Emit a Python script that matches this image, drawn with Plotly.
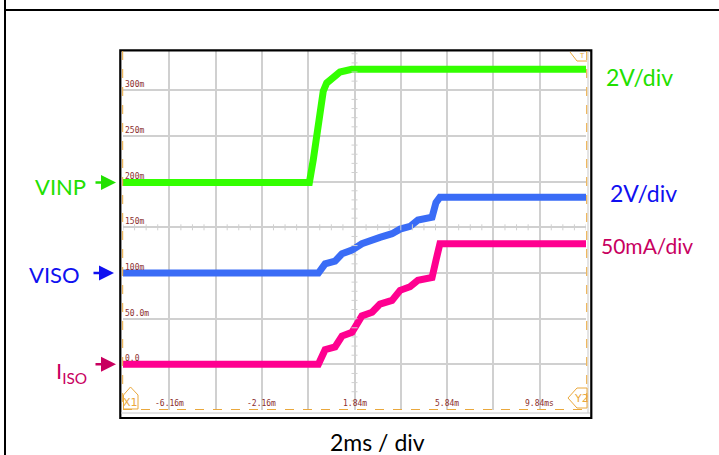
import plotly.graph_objects as go

# Scope capture: time in ms, vertical position in screen units (m)
time_vinp = [-8.16, -0.11, 0.06, 0.21, 0.35, 0.49, 0.64, 0.93, 1.21, 1.72, 11.84]
vinp = [199, 199, 224, 249, 275, 299, 308, 315, 320, 323, 323]

time_steps = [-8.16, 0.28, 0.57, 1.00, 1.30, 1.73, 2.16, 2.60, 2.94, 3.46,
              3.81, 4.24, 4.58, 5.19, 5.36, 5.53, 11.84]
viso = [100, 100, 110, 113, 121, 125, 132, 135, 139, 143, 148, 151, 158, 161, 177, 183, 183]
iiso = [0, 0, 16, 19, 31, 35, 53, 57, 66, 70, 81, 85, 92, 95, 114, 132, 132]

y_tick_vals = [300, 250, 200, 150, 100, 50, 0]
y_tick_text = ["300m", "250m", "200m", "150m", "100m", "50.0m", "0.0"]
x_tick_vals = [-6.16, -2.16, 1.84, 5.84, 9.84]
x_tick_text = ["-6.16m", "-2.16m", "1.84m", "5.84m", "9.84ms"]

X_RANGE = [-8.16, 11.84]
Y_RANGE = [-50, 343]

GREEN_TRACE = "#33ff00"
BLUE_TRACE = "#3a6cf6"
PINK_TRACE = "#ff0090"
GREEN_TEXT = "#22e000"
BLUE_TEXT = "#1010f0"
PINK_TEXT = "#c8005f"
ORANGE = "#eaa83c"
GRID = "#d0d0d0"
LABEL = "#8b2e2e"

W, H = 719, 455
ML, MR, MT, MB = 123, 133, 51, 45


def px(x):
    return (x - ML) / (W - ML - MR)


def py(y):
    return (H - MB - y) / (H - MT - MB)


fig = go.Figure()
for t, v, c in [(time_vinp, vinp, GREEN_TRACE),
                (time_steps, viso, BLUE_TRACE),
                (time_steps, iiso, PINK_TRACE)]:
    fig.add_trace(go.Scatter(x=t, y=v, mode="lines",
                             line=dict(color=c, width=7),
                             hoverinfo="skip", showlegend=False))

shapes = []


def line(x0, y0, x1, y1, color, width, dash=None):
    shapes.append(dict(type="line", xref="paper", yref="paper",
                       x0=px(x0), y0=py(y0), x1=px(x1), y1=py(y1),
                       line=dict(color=color, width=width, dash=dash),
                       layer="above"))


# page border
line(5, 10, 719, 10, "black", 2)
line(5, 0, 5, 455, "black", 2)
# scope frame
shapes.append(dict(type="rect", xref="paper", yref="paper",
                   x0=px(120.3), x1=px(591.3), y0=py(418), y1=py(50.3),
                   line=dict(color="black", width=2.2), layer="above"))
line(121, 413, 590, 413, "#c8c8c8", 1)
line(588, 51, 588, 413, "#c8c8c8", 1)
# cursor lines
line(122.7, 51, 122.7, 410, ORANGE, 1, "dash")
line(123, 409.5, 587, 409.5, ORANGE, 1, "dash")
line(586.7, 51, 586.7, 410, ORANGE, 1, "dash")

# minor ticks on the centre cross
for k in range(-10, 40):
    v = k * 10
    if Y_RANGE[0] < v < Y_RANGE[1]:
        shapes.append(dict(type="line", xref="x", yref="y", xsizemode="pixel",
                           xanchor=1.84, x0=-3, x1=3, y0=v, y1=v,
                           line=dict(color=GRID, width=1)))
for k in range(0, 41):
    t = X_RANGE[0] + k * 0.5
    shapes.append(dict(type="line", xref="x", yref="y", ysizemode="pixel",
                       yanchor=150, y0=-3, y1=3, x0=t, x1=t,
                       line=dict(color=GRID, width=1)))


def path(points):
    d = "M " + " L ".join(f"{px(a):.5f},{py(b):.5f}" for a, b in points) + " Z"
    shapes.append(dict(type="path", xref="paper", yref="paper", path=d,
                       line=dict(color=ORANGE, width=1), layer="above"))


path([(123.5, 409), (123.5, 395), (130.5, 387), (138, 395), (138, 409)])
path([(587, 388), (577, 388), (568, 398), (577, 408), (587, 408)])
line(570, 52, 577, 61, ORANGE, 1)
line(577, 61, 587, 61, ORANGE, 1)

annotations = []


def text(s, x, y, color, size, xanchor="left", family="Lato", yanchor="middle", **kw):
    annotations.append(dict(text=s, xref="paper", yref="paper", x=px(x), y=py(y),
                            xanchor=xanchor, yanchor=yanchor, showarrow=False,
                            font=dict(family=family, size=size, color=color), **kw))


# in-screen scale labels
for v, s in zip(y_tick_vals, y_tick_text):
    annotations.append(dict(text=s, xref="paper", yref="y", x=px(124), y=v,
                            xanchor="left", yanchor="bottom", showarrow=False,
                            borderpad=0, yshift=0,
                            font=dict(family="DejaVu Sans Mono", size=8, color=LABEL)))
for t, s in zip(x_tick_vals, x_tick_text):
    annotations.append(dict(text=s, xref="x", yref="y", x=t, y=Y_RANGE[0],
                            xanchor="center", yanchor="bottom", showarrow=False,
                            borderpad=0, yshift=1,
                            font=dict(family="DejaVu Sans Mono", size=8, color=LABEL)))

text("X1", 130.8, 402, ORANGE, 11, xanchor="center", family="DejaVu Sans")
text("Y2", 581, 398, ORANGE, 11, xanchor="center", family="DejaVu Sans")
text("T", 582, 56, ORANGE, 7, xanchor="center", family="DejaVu Sans")

# channel labels and arrows
text("VINP", 88, 186, GREEN_TEXT, 22, xanchor="right")
text("VISO", 82, 274, BLUE_TEXT, 22, xanchor="right")
text("I<sub>ISO</sub>", 89, 372, PINK_TEXT, 22, xanchor="right")
text("2V/div", 604, 77, GREEN_TEXT, 23)
text("2V/div", 608, 193, BLUE_TEXT, 23)
text("50mA/div", 599, 245, PINK_TEXT, 21)
text("2ms / div", 377, 442, "black", 23, xanchor="center")

for tipx, level, c in [(116, vinp[0], GREEN_TEXT), (114, viso[0], BLUE_TEXT),
                       (116, iiso[0], PINK_TEXT)]:
    annotations.append(dict(text="", xref="paper", yref="y", x=px(tipx), y=level,
                            showarrow=True, ax=-22, ay=0, arrowhead=2,
                            arrowsize=1.2, arrowwidth=2.5, arrowcolor=c, standoff=0))

fig.update_layout(
    width=W, height=H,
    margin=dict(l=ML, r=MR, t=MT, b=MB),
    paper_bgcolor="white", plot_bgcolor="white",
    xaxis=dict(range=X_RANGE, tick0=X_RANGE[0], dtick=2, showgrid=True,
               gridcolor=GRID, gridwidth=1.6, showticklabels=False,
               zeroline=False, showline=False, ticks=""),
    yaxis=dict(range=Y_RANGE, tick0=0, dtick=50, showgrid=True,
               gridcolor=GRID, gridwidth=1.6, showticklabels=False,
               zeroline=False, showline=False, ticks=""),
    shapes=shapes, annotations=annotations,
)

fig.write_html("out.html")
